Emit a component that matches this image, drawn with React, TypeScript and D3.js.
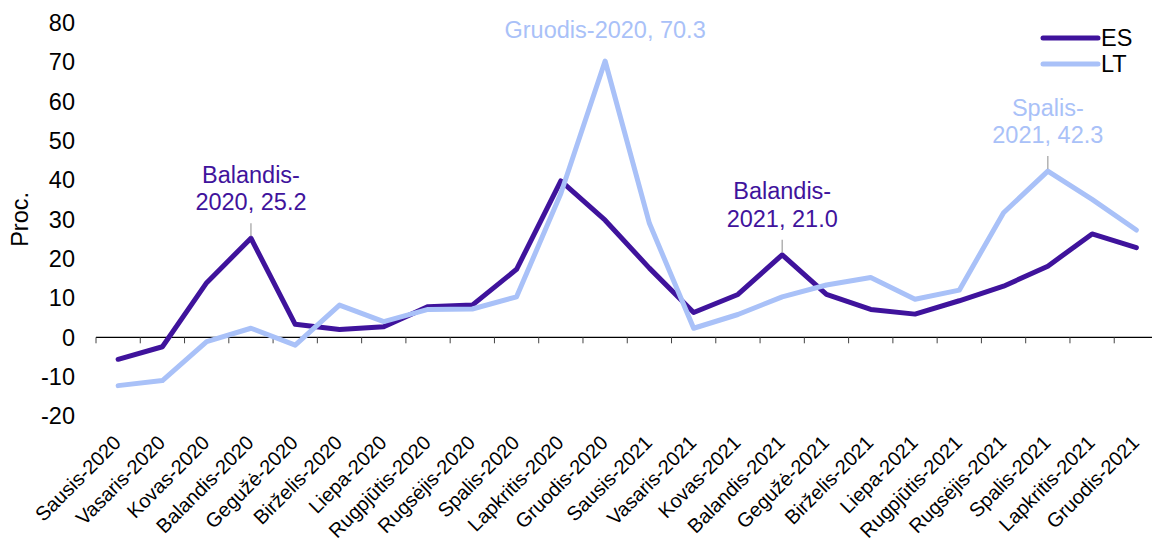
import React from "react";
import * as d3 from "d3";

const categories = [
  "Sausis-2020", "Vasaris-2020", "Kovas-2020", "Balandis-2020", "Gegužė-2020", "Birželis-2020",
  "Liepa-2020", "Rugpjūtis-2020", "Rugsėjis-2020", "Spalis-2020", "Lapkritis-2020", "Gruodis-2020",
  "Sausis-2021", "Vasaris-2021", "Kovas-2021", "Balandis-2021", "Gegužė-2021", "Birželis-2021",
  "Liepa-2021", "Rugpjūtis-2021", "Rugsėjis-2021", "Spalis-2021", "Lapkritis-2021", "Gruodis-2021",
];

const esValues = [
  -5.6, -2.4, 13.9, 25.2, 3.3, 2.0, 2.7, 7.8, 8.2, 17.3, 39.8, 29.8,
  17.6, 6.3, 10.9, 21.0, 10.9, 7.1, 5.9, 9.3, 13.0, 18.1, 26.3, 22.8,
];

const ltValues = [
  -12.3, -11.0, -1.1, 2.3, -2.0, 8.2, 4.0, 7.1, 7.2, 10.3, 36.6, 70.3,
  29.0, 2.3, 5.8, 10.3, 13.3, 15.2, 9.7, 12.0, 31.7, 42.3, 35.1, 27.3,
];

const yTicks = [-20, -10, 0, 10, 20, 30, 40, 50, 60, 70, 80];

const seriesNames = ["ES", "LT"];
const seriesColors = ["#3F139C", "#A9C1F8"];

// annotations: [seriesIndex, categoryIndex, lines, hasLeader]
const annotations: [number, number, string[], boolean][] = [
  [0, 3, ["Balandis-", "2020, 25.2"], true],
  [1, 11, ["Gruodis-2020, 70.3"], false],
  [0, 15, ["Balandis-", "2021, 21.0"], true],
  [1, 21, ["Spalis-", "2021, 42.3"], true],
];

const W = 1152;
const H = 541;
const FONT = "'Liberation Sans', Arial, sans-serif";
const FS = 23.5;

export default function App() {
  const x = d3.scaleBand<string>().domain(categories).range([96, 1158.5]);
  const y = d3.scaleLinear().domain([-20, 80]).range([415.9, 22.9]);
  const cx = (c: string) => (x(c) as number) + x.bandwidth() / 2;

  const line = d3
    .line<number>()
    .x((_, i) => cx(categories[i]))
    .y((v) => y(v));

  const data = [esValues, ltValues];

  return (
    <svg width={W} height={H} style={{ position: "absolute", left: 0, top: 0, background: "#fff" }} fontFamily={FONT}>
      {/* y tick labels */}
      {yTicks.map((t) => (
        <text key={t} x={75} y={y(t)} dy="0.35em" textAnchor="end" fontSize={FS} fill="#000">
          {t}
        </text>
      ))}
      {/* y title */}
      <text transform={`translate(28,${y(30)}) rotate(-90)`} textAnchor="middle" fontSize={FS} fill="#000">
        Proc.
      </text>
      {/* x axis */}
      <line x1={96} x2={1158.5} y1={y(0)} y2={y(0)} stroke="#000" strokeWidth={1.2} />
      {categories.map((c) => (
        <line key={c} x1={x(c)} x2={x(c)} y1={y(0)} y2={y(0) + 6} stroke="#444" strokeWidth={1} />
      ))}
      {/* x tick labels */}
      {categories.map((c) => (
        <text
          key={c}
          transform={`translate(${cx(c) + 4},${444}) rotate(-45)`}
          textAnchor="end"
          fontSize={20}
          fill="#000"
        >
          {c}
        </text>
      ))}
      {/* lines */}
      {data.map((d, i) => (
        <path
          key={seriesNames[i]}
          d={line(d) || ""}
          fill="none"
          stroke={seriesColors[i]}
          strokeWidth={5}
          strokeLinejoin="round"
          strokeLinecap="round"
        />
      ))}
      {/* annotations */}
      {annotations.map(([si, ci, lines, leader]) => {
        const px = cx(categories[ci]);
        const py = y(data[si][ci]);
        const top = leader ? py - 15 : py;
        const lastCenter = top - (leader ? 21 : 31);
        return (
          <g key={`${si}-${ci}`}>
            {leader && <line x1={px} x2={px} y1={py - 2} y2={top} stroke="#A6A6A6" strokeWidth={1.3} />}
            {lines.map((l, k) => (
              <text
                key={k}
                x={px}
                y={lastCenter - (lines.length - 1 - k) * 27.5}
                dy="0.35em"
                textAnchor="middle"
                fontSize={FS}
                fill={seriesColors[si]}
              >
                {l}
              </text>
            ))}
          </g>
        );
      })}
      {/* legend */}
      {seriesNames.map((n, i) => (
        <g key={n}>
          <line x1={1043} x2={1098} y1={38 + i * 26} y2={38 + i * 26} stroke={seriesColors[i]} strokeWidth={5} strokeLinecap="round" />
          <text x={1101} y={38 + i * 26} dy="0.35em" fontSize={FS} fill="#000">
            {n}
          </text>
        </g>
      ))}
    </svg>
  );
}
